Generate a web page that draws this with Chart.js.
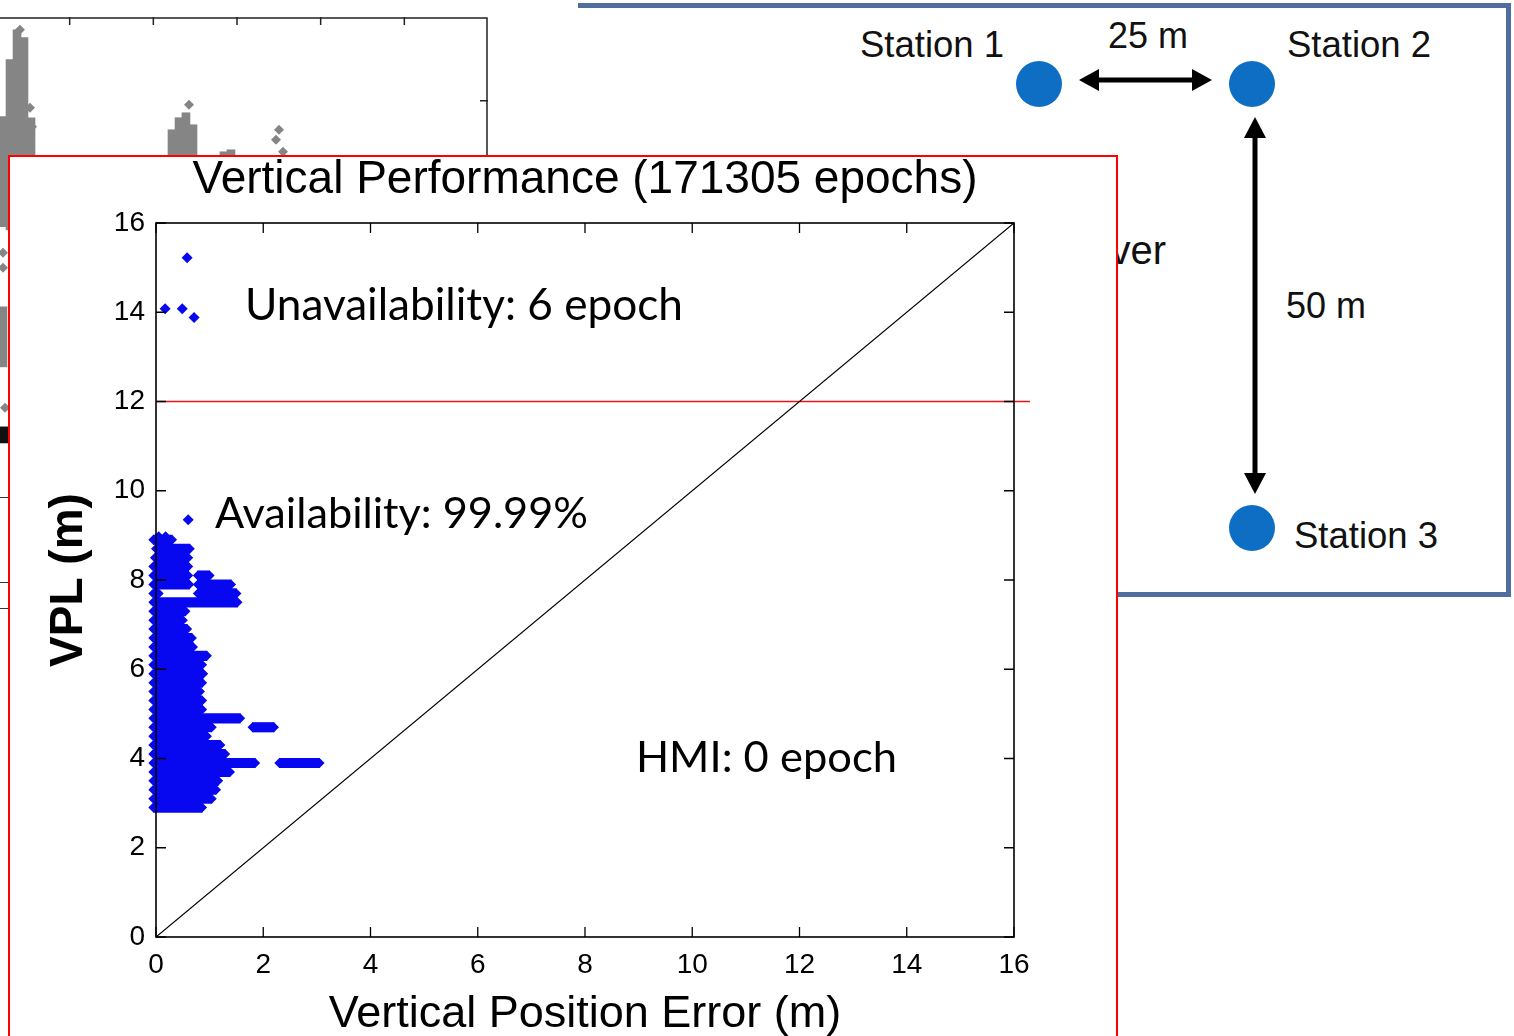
<!DOCTYPE html>
<html>
<head>
<meta charset="utf-8">
<script src="https://cdn.jsdelivr.net/npm/chart.js@4/dist/chart.umd.min.js"></script>
<style>
html,body{margin:0;padding:0;width:1514px;height:1036px;overflow:hidden;background:#fff;}
#bgCanvas{position:absolute;left:-14px;top:17px;z-index:0;}
.strip-line{position:absolute;left:0;width:9px;height:1px;background:#333;z-index:0;}
#panel{position:absolute;left:578px;top:3px;width:928px;height:584px;border-top:5px solid #4d6e9e;border-right:5px solid #4d6e9e;border-bottom:5px solid #4d6e9e;z-index:1;background:#fff;}
.lbl{position:absolute;font-family:"Liberation Sans",Arial,sans-serif;color:#111;line-height:1;white-space:nowrap;z-index:2;}
.dot{position:absolute;width:46px;height:46px;border-radius:50%;background:#0d6ec4;z-index:2;}
#arrows{position:absolute;left:0;top:0;z-index:2;}
#frame{position:absolute;left:8px;top:155px;width:1106px;height:900px;border:2px solid #ff0000;background:#fff;z-index:5;}
#mainCanvas{position:absolute;left:0;top:0;}
</style>
</head>
<body>
<canvas id="bgCanvas" width="502" height="586" style="width:502px;height:586px"></canvas>
<div class="strip-line" style="top:497px"></div>
<div class="strip-line" style="top:582px"></div>
<div class="strip-line" style="top:608px"></div>

<div id="panel"></div>
<div class="lbl" style="left:860px;top:27px;font-size:36.5px">Station 1</div>
<div class="lbl" style="left:1287px;top:27px;font-size:36.5px">Station 2</div>
<div class="lbl" style="left:1108px;top:18px;font-size:36px">25 m</div>
<div class="lbl" style="left:1286px;top:288px;font-size:36px">50 m</div>
<div class="lbl" style="left:1294px;top:518px;font-size:36.5px">Station 3</div>
<div class="lbl" style="right:348px;top:230px;font-size:40px;text-align:right">Receiver</div>
<div class="dot" style="left:1016px;top:61px"></div>
<div class="dot" style="left:1229px;top:61px"></div>
<div class="dot" style="left:1229px;top:505px"></div>
<svg id="arrows" width="1514" height="1036">
  <line x1="1094" y1="80" x2="1197" y2="80" stroke="#000" stroke-width="5"/>
  <polygon points="1079,80 1099,69 1099,91" fill="#000"/>
  <polygon points="1212,80 1192,69 1192,91" fill="#000"/>
  <line x1="1255" y1="134" x2="1255" y2="478" stroke="#000" stroke-width="5"/>
  <polygon points="1255,117 1244,138 1266,138" fill="#000"/>
  <polygon points="1255,494 1244,473 1266,473" fill="#000"/>
</svg>

<div id="frame"><canvas id="mainCanvas" width="1106" height="880" style="width:1106px;height:880px"></canvas></div>

<script>
// ---------------- Main chart data ----------------
const axisTicks = [0, 2, 4, 6, 8, 10, 12, 14, 16];

// Isolated epochs (Vertical Position Error, VPL)
const outlierVPE = [0.58, 0.17, 0.49, 0.71, 0.60, 0.05, 0.18];
const outlierVPL = [15.22, 14.08, 14.08, 13.88, 9.35, 8.97, 8.97];

// Dense cluster, read row by row: VPL level, VPE extent start, VPE extent end
const clusterVPL   = [2.9, 3.1, 3.3, 3.5, 3.7, 3.9, 3.9, 4.1, 4.3, 4.5, 4.7, 4.7, 4.9, 5.1, 5.3, 5.5, 5.7, 5.9, 6.1, 6.3, 6.5, 6.7, 6.9, 7.1, 7.3, 7.5, 7.7, 7.7, 7.9, 7.9, 8.1, 8.1, 8.3, 8.5, 8.7, 8.9];
const clusterStart = [-0.05,-0.05,-0.05,-0.05,-0.05,-0.05, 2.30,-0.05,-0.05,-0.05,-0.05, 1.80,-0.05,-0.05,-0.05,-0.05,-0.05,-0.05,-0.05,-0.05,-0.05,-0.05,-0.05,-0.05,-0.05,-0.05,-0.05, 0.78,-0.05, 0.78,-0.05, 0.78,-0.05,-0.02, 0.00,-0.05];
const clusterEnd   = [0.86, 1.04, 1.12, 1.16, 1.38, 1.85, 3.05, 1.29, 1.20, 0.95, 1.04, 2.20, 1.57, 0.86, 0.86, 0.82, 0.86, 0.88, 0.86, 0.95, 0.69, 0.67, 0.58, 0.50, 0.55, 1.52, 0.05, 1.50, 0.62, 1.40, 0.60, 1.00, 0.60, 0.60, 0.63, 0.30];

// Reference lines
const alertLimitVPL = 12;
const alertLineVPE = [0, 16.3];
const diagonalVPE = [0, 16];
const diagonalVPL = [0, 16];

// Annotations (text, VPE, VPL of baseline start)
const noteText = ['Unavailability: 6 epoch', 'Availability: 99.99%', 'HMI: 0 epoch'];
const noteVPE  = [1.66, 1.10, 8.95];
const noteVPL  = [13.83, 9.17, 3.70];
const noteWidthPx = [438, 373, 261];

// ---------------- Background chart data ----------------
const bgColX     = [0.203, 0.203, 0.287, 0.371, 0.454, 0.538, 2.223, 2.307, 2.390, 2.474, 2.844, 2.928];
const bgColLow   = [4.494, 2.821, 4.458, 4.458, 4.458, 4.458, 5.295, 5.295, 5.295, 5.295, 5.295, 5.295];
const bgColHigh  = [5.809, 3.538, 6.490, 6.848, 6.753, 5.797, 5.653, 5.797, 5.856, 5.713, 5.390, 5.414];
const bgPtX = [0.406, 0.430, 0.526, 0.550, 0.203, 0.203, 0.227, 2.426, 3.502, 3.466, 3.550];
const bgPtY = [6.848, 6.131, 5.916, 5.689, 4.183, 4.004, 2.331, 5.952, 5.653, 5.534, 5.390];
const bgDarkX = [0.215];
const bgDarkLow = [1.912];
const bgDarkHigh = [2.104];

// ---------------- Helpers ----------------
const BLUE = '#0808f0';
const mainFont = '"Liberation Sans", Arial, sans-serif';

const clusterData = clusterVPL.map((v, i) => ({ y: v, x: [clusterStart[i], clusterEnd[i]] }));
const clusterEdges = clusterVPL.map((v, i) => ({ x: clusterEnd[i], y: v }))
  .concat(clusterVPL.map((v, i) => ({ x: clusterStart[i], y: v })));
const outlierData = outlierVPE.map((v, i) => ({ x: v, y: outlierVPL[i] }));
const alertLine = alertLineVPE.map(v => ({ x: v, y: alertLimitVPL }));
const diagonal = diagonalVPE.map((v, i) => ({ x: v, y: diagonalVPL[i] }));

const framePlugin = {
  id: 'matlabFrame',
  afterDatasetsDraw(chart) {
    const { ctx, chartArea: a, scales: { x, y } } = chart;
    ctx.save();
    ctx.strokeStyle = '#000';
    ctx.lineWidth = 1.6;
    ctx.strokeRect(a.left, a.top, a.right - a.left, a.bottom - a.top);
    ctx.lineWidth = 1.3;
    const L = 10;
    ctx.beginPath();
    axisTicks.forEach(t => {
      const px = x.getPixelForValue(t);
      ctx.moveTo(px, a.bottom); ctx.lineTo(px, a.bottom - L);
      ctx.moveTo(px, a.top); ctx.lineTo(px, a.top + L);
      const py = y.getPixelForValue(t);
      ctx.moveTo(a.left, py); ctx.lineTo(a.left + L, py);
      ctx.moveTo(a.right, py); ctx.lineTo(a.right - L, py);
    });
    ctx.stroke();
    ctx.restore();
  }
};

const notesPlugin = {
  id: 'notes',
  afterDraw(chart) {
    const { ctx, scales: { x, y } } = chart;
    ctx.save();
    ctx.fillStyle = '#000';
    ctx.textBaseline = 'alphabetic';
    ctx.textAlign = 'left';
    noteText.forEach((t, i) => {
      ctx.font = '44px Lato, "Open Sans", sans-serif';
      const w = ctx.measureText(t).width;
      const size = 44 * noteWidthPx[i] / w;
      ctx.font = size.toFixed(2) + 'px Lato, "Open Sans", sans-serif';
      ctx.fillText(t, x.getPixelForValue(noteVPE[i]), y.getPixelForValue(noteVPL[i]));
    });
    ctx.restore();
  }
};

new Chart(document.getElementById('mainCanvas'), {
  type: 'scatter',
  data: {
    datasets: [
      { type: 'line', data: diagonal, borderColor: '#000', borderWidth: 1.2, pointRadius: 0, showLine: true, fill: false, order: 1 },
      { type: 'line', data: alertLine, borderColor: '#e3161b', borderWidth: 1.6, pointRadius: 0, showLine: true, fill: false, clip: false, order: 2 },
      { type: 'scatter', data: outlierData, pointStyle: 'rectRot', pointRadius: 5.5, backgroundColor: BLUE, borderWidth: 0, clip: false, order: 3 },
      { type: 'scatter', data: clusterEdges, pointStyle: 'rectRot', pointRadius: 5, backgroundColor: BLUE, borderWidth: 0, clip: false, order: 4 },
      { type: 'bar', indexAxis: 'y', data: clusterData, backgroundColor: BLUE, borderWidth: 0, barThickness: 9.5, grouped: false, clip: false, order: 5 }
    ]
  },
  options: {
    responsive: false,
    maintainAspectRatio: false,
    animation: false,
    events: [],
    layout: { autoPadding: false, padding: { left: 0, right: 102, top: 0, bottom: 0 } },
    plugins: {
      legend: { display: false },
      tooltip: { enabled: false },
      title: {
        display: true,
        text: 'Vertical Performance (171305 epochs)',
        fullSize: false,
        color: '#000',
        font: { family: mainFont, size: 46, weight: 'normal', lineHeight: 1 },
        padding: { top: 0, bottom: 20 }
      }
    },
    scales: {
      x: {
        type: 'linear', position: 'bottom', min: 0, max: 16, offset: false,
        afterBuildTicks: s => { s.ticks = axisTicks.map(v => ({ value: v })); },
        ticks: { color: '#000', font: { family: mainFont, size: 28, lineHeight: 1 }, padding: 14, maxRotation: 0, autoSkip: false },
        grid: { display: false, drawTicks: false },
        border: { display: false },
        title: { display: true, text: 'Vertical Position Error (m)', color: '#000', font: { family: mainFont, size: 45, lineHeight: 1 }, padding: { top: 0, bottom: 0 } },
        afterFit: s => { s.height = 100; }
      },
      y: {
        type: 'linear', position: 'left', min: 0, max: 16, offset: false,
        afterBuildTicks: s => { s.ticks = axisTicks.map(v => ({ value: v })); },
        ticks: { color: '#000', font: { family: mainFont, size: 28, lineHeight: 1 }, padding: 11, autoSkip: false },
        grid: { display: false, drawTicks: false },
        border: { display: false },
        title: { display: true, text: 'VPL (m)', color: '#000', font: { family: mainFont, size: 46, weight: 'bold', lineHeight: 1 }, padding: { top: 36, bottom: 0 } },
        afterFit: s => { s.width = 146; }
      }
    }
  },
  plugins: [framePlugin, notesPlugin]
});

// ---------------- Background (partly hidden) chart ----------------
const bgFrame = {
  id: 'bgFrame',
  afterDatasetsDraw(chart) {
    const { ctx, chartArea: a, scales: { x, y } } = chart;
    ctx.save();
    ctx.strokeStyle = '#222';
    ctx.lineWidth = 1.5;
    ctx.beginPath();
    ctx.moveTo(a.left, a.top + 1); ctx.lineTo(a.right - 1, a.top + 1); ctx.lineTo(a.right - 1, a.bottom);
    [1, 2, 3, 4, 5].forEach(t => {
      const px = x.getPixelForValue(t);
      ctx.moveTo(px, a.top); ctx.lineTo(px, a.top + 8);
    });
    [1, 2, 3, 4, 5, 6].forEach(t => {
      const py = y.getPixelForValue(t);
      ctx.moveTo(a.right, py); ctx.lineTo(a.right - 8, py);
    });
    ctx.stroke();
    ctx.restore();
  }
};

new Chart(document.getElementById('bgCanvas'), {
  type: 'scatter',
  data: {
    datasets: [
      { type: 'bar', data: bgColX.map((v, i) => ({ x: v, y: [bgColLow[i], bgColHigh[i]] })), backgroundColor: '#858585', barThickness: 8, grouped: false },
      { type: 'bar', data: bgDarkX.map((v, i) => ({ x: v, y: [bgDarkLow[i], bgDarkHigh[i]] })), backgroundColor: '#111', barThickness: 12, grouped: false },
      { type: 'scatter', data: bgPtX.map((v, i) => ({ x: v, y: bgPtY[i] })), pointStyle: 'rectRot', pointRadius: 5, backgroundColor: '#858585', borderWidth: 0 }
    ]
  },
  options: {
    responsive: false, animation: false, events: [],
    layout: { autoPadding: false, padding: 0 },
    plugins: { legend: { display: false }, tooltip: { enabled: false } },
    scales: {
      x: { type: 'linear', min: 0, max: 6, display: false, offset: false },
      y: { type: 'linear', min: 0, max: 7, display: false, offset: false }
    }
  },
  plugins: [bgFrame]
});
</script>
</body>
</html>
